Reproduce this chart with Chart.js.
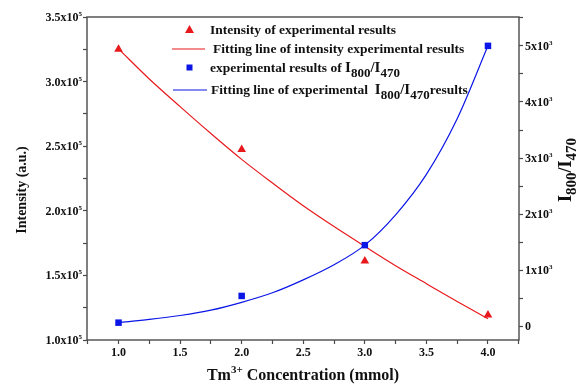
<!DOCTYPE html>
<html>
<head>
<meta charset="utf-8">
<script src="https://cdn.jsdelivr.net/npm/chart.js@4/dist/chart.umd.min.js"></script>
<style>
  html, body { margin: 0; padding: 0; background: #fff; }
  #wrap { width: 576px; height: 385px; position: relative; }
</style>
</head>
<body>
<div id="wrap"><canvas id="chart"></canvas></div>
<script>
const FONT = '"Liberation Serif", "Times New Roman", serif';

// measured points
const concentration = [1, 2, 3, 4];
const intensityMeasured = [325000, 247500, 161200, 119400];
const ratioMeasured = [68, 544, 1449, 5000];

// fitted curves
const fitX = [1, 1.25, 1.5, 1.75, 2, 2.25, 2.5, 2.75, 3, 3.25, 3.5, 3.75, 4];
const intensityFit = [325300, 302000, 280600, 259800, 239800, 221500, 203900, 187800, 172500, 157500, 143600, 129800, 116500];
const ratioFit = [68, 125, 195, 290, 430, 600, 830, 1100, 1449, 1990, 2710, 3700, 5000];

// tick positions (major ones carry labels)
const xTicks = [0.75, 1, 1.25, 1.5, 1.75, 2, 2.25, 2.5, 2.75, 3, 3.25, 3.5, 3.75, 4, 4.25];
const yTicks = [100000, 125000, 150000, 175000, 200000, 225000, 250000, 275000, 300000, 325000, 350000];
const y2Ticks = [0, 500, 1000, 1500, 2000, 2500, 3000, 3500, 4000, 4500, 5000, 5500];
const yLabelValues = [100000, 150000, 200000, 250000, 300000, 350000];
const yLabels = ['1.0', '1.5', '2.0', '2.5', '3.0', '3.5'];
const y2LabelValues = [0, 1000, 2000, 3000, 4000, 5000];
const y2Labels = ['0', '1', '2', '3', '4', '5'];

const RED = '#e8191c';
const BLUE = '#0b16e6';
const AXIS = '#4a4a4a';

function pts(xs, ys) {
    return xs.map((x, i) => ({ x: x, y: ys[i] }));
}

function setTicks(values) {
    return (scale) => { scale.ticks = values.map((v) => ({ value: v })); };
}

// draws text pieces [text, size, dy] one after another from a baseline
function richText(ctx, parts, x, y, align) {
    let w = 0;
    for (const p of parts) {
        ctx.font = 'bold ' + p[1] + 'px ' + FONT;
        w += ctx.measureText(p[0]).width;
    }
    let cx = x;
    if (align === 'right') cx = x - w;
    if (align === 'center') cx = x - w / 2;
    ctx.textAlign = 'left';
    ctx.textBaseline = 'alphabetic';
    for (const p of parts) {
        ctx.font = 'bold ' + p[1] + 'px ' + FONT;
        ctx.fillText(p[0], cx, y + (p[2] || 0));
        cx += ctx.measureText(p[0]).width;
    }
}

const decorations = {
    id: 'decorations',
    afterDraw(chart) {
        const ctx = chart.ctx;
        const a = chart.chartArea;
        const y = chart.scales.y;
        const y2 = chart.scales.y2;
        ctx.save();

        // frame
        ctx.strokeStyle = AXIS;
        ctx.lineWidth = 1.4;
        ctx.strokeRect(a.left, a.top, a.right - a.left, a.bottom - a.top);

        ctx.fillStyle = '#111';
        // left tick labels
        yLabelValues.forEach((v, i) => {
            const py = y.getPixelForValue(v);
            richText(ctx, [[yLabels[i] + 'x10', 12, 0], ['5', 7, -5]], a.left - 5, py + 4, 'right');
        });
        // right tick labels
        y2LabelValues.forEach((v, i) => {
            const py = y2.getPixelForValue(v);
            if (v === 0) richText(ctx, [['0', 12, 0]], a.right + 6, py + 4, 'left');
            else richText(ctx, [[y2Labels[i] + 'x10', 12, 0], ['3', 7, -5]], a.right + 6, py + 4, 'left');
        });

        // axis titles
        richText(ctx, [['Tm', 16, 0], ['3+', 11, -7], [' Concentration (mmol)', 16, 0]], 303, 380, 'center');

        ctx.save();
        ctx.translate(26, 190);
        ctx.rotate(-Math.PI / 2);
        richText(ctx, [['Intensity (a.u.)', 14, 0]], 0, 0, 'center');
        ctx.restore();

        ctx.save();
        ctx.translate(571, 170);
        ctx.rotate(-Math.PI / 2);
        richText(ctx, [['I', 18, 0], ['800', 15, 5], ['/I', 18, 0], ['470', 15, 5]], 0, 0, 'center');
        ctx.restore();

        // legend
        ctx.fillStyle = RED;
        ctx.beginPath();
        ctx.moveTo(189.5, 25);
        ctx.lineTo(194, 33);
        ctx.lineTo(185, 33);
        ctx.closePath();
        ctx.fill();
        ctx.strokeStyle = RED;
        ctx.lineWidth = 1.2;
        ctx.beginPath();
        ctx.moveTo(172, 49);
        ctx.lineTo(205, 49);
        ctx.stroke();
        ctx.fillStyle = BLUE;
        ctx.fillRect(186.5, 64.5, 6, 6);
        ctx.strokeStyle = BLUE;
        ctx.beginPath();
        ctx.moveTo(173, 90);
        ctx.lineTo(207, 90);
        ctx.stroke();

        ctx.fillStyle = '#111';
        richText(ctx, [['Intensity of experimental results', 13.5, 0]], 210, 34);
        richText(ctx, [['Fitting line of intensity experimental results', 13.5, 0]], 213, 53);
        richText(ctx, [['experimental results of ', 13.5, 0], ['I', 15, 0], ['800', 13, 5], ['/I', 15, 0], ['470', 13, 5]], 210, 72);
        richText(ctx, [['Fitting line of experimental  ', 13.5, 0], ['I', 15, 0], ['800', 13, 5], ['/I', 15, 0], ['470', 13, 5], ['results', 13.5, 0]], 211, 94);

        ctx.restore();
    }
};

const ctx = document.getElementById('chart');

new Chart(ctx, {
    type: 'scatter',
    data: {
        datasets: [
            {
                label: 'Intensity of experimental results',
                data: pts(concentration, intensityMeasured),
                yAxisID: 'y',
                pointStyle: 'triangle',
                pointRadius: 5,
                pointBackgroundColor: RED,
                pointBorderWidth: 0,
                order: 1
            },
            {
                label: 'Fitting line of intensity experimental results',
                data: pts(fitX, intensityFit),
                yAxisID: 'y',
                showLine: true,
                borderColor: RED,
                borderWidth: 1.2,
                pointRadius: 0,
                cubicInterpolationMode: 'monotone',
                order: 2
            },
            {
                label: 'experimental results of I800/I470',
                data: pts(concentration, ratioMeasured),
                yAxisID: 'y2',
                pointStyle: 'rect',
                pointRadius: 4.6,
                pointBackgroundColor: BLUE,
                pointBorderWidth: 0,
                order: 1
            },
            {
                label: 'Fitting line of experimental I800/I470 results',
                data: pts(fitX, ratioFit),
                yAxisID: 'y2',
                showLine: true,
                borderColor: BLUE,
                borderWidth: 1.2,
                pointRadius: 0,
                cubicInterpolationMode: 'monotone',
                order: 2
            }
        ]
    },
    options: {
        responsive: true,
        maintainAspectRatio: false,
        animation: false,
        layout: { padding: { top: 17, left: 0, right: 0, bottom: 0 } },
        plugins: {
            legend: { display: false },
            tooltip: { enabled: false }
        },
        scales: {
            x: {
                type: 'linear',
                min: 0.744,
                max: 4.252,
                border: { display: false },
                grid: { drawOnChartArea: false, tickLength: 4, tickColor: AXIS, tickWidth: 1.2 },
                afterBuildTicks: setTicks(xTicks),
                ticks: {
                    maxRotation: 0,
                    autoSkip: false,
                    padding: 2,
                    color: '#111',
                    font: { family: FONT, size: 12, weight: 'bold' },
                    callback: (v) => Math.abs(v * 2 - Math.round(v * 2)) < 1e-6 ? v.toFixed(1) : ''
                },
                afterFit: (s) => { s.height = 45; }
            },
            y: {
                position: 'left',
                min: 100000,
                max: 350000,
                border: { display: false },
                grid: { drawOnChartArea: false, tickLength: 4, tickColor: AXIS, tickWidth: 1.2 },
                afterBuildTicks: setTicks(yTicks),
                ticks: { display: false },
                afterFit: (s) => { s.width = 87; }
            },
            y2: {
                position: 'right',
                min: -241,
                max: 5514,
                border: { display: false },
                grid: { drawOnChartArea: false, tickLength: 4, tickColor: AXIS, tickWidth: 1.2 },
                afterBuildTicks: setTicks(y2Ticks),
                ticks: { display: false },
                afterFit: (s) => { s.width = 57; }
            }
        }
    },
    plugins: [decorations]
});
</script>
</body>
</html>
